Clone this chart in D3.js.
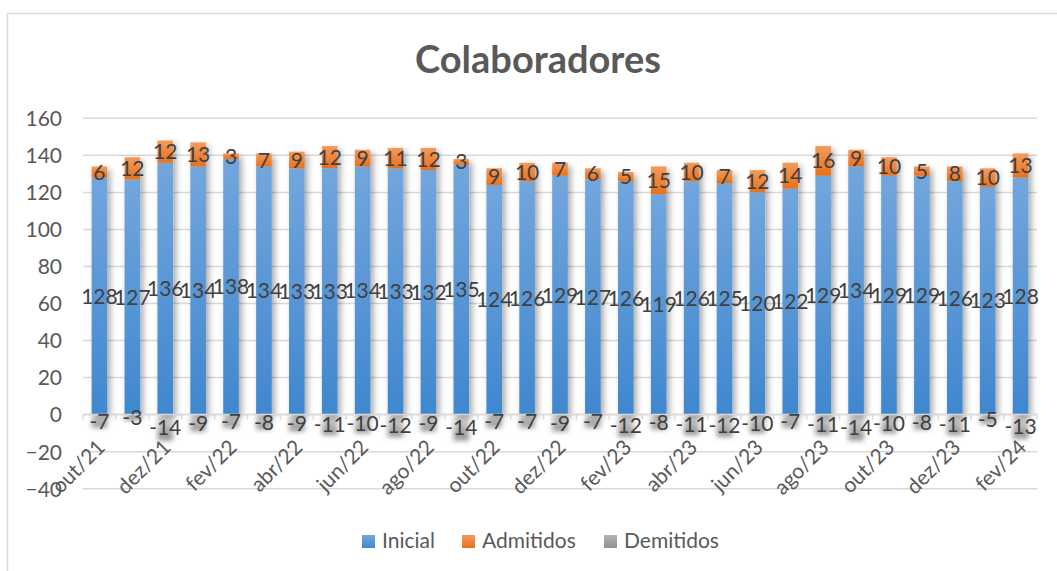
<!DOCTYPE html>
<html>
<head>
<meta charset="utf-8">
<script src="https://cdn.jsdelivr.net/npm/d3@7"></script>
<style>
  body { margin: 0; background: #fff; }
  svg { display: block; font-family: Lato, "Open Sans", sans-serif; }
</style>
</head>
<body>
<div id="vis"></div>
<script>
var months = ["out/21", "nov/21", "dez/21", "jan/22", "fev/22", "mar/22", "abr/22", "mai/22",
  "jun/22", "jul/22", "ago/22", "set/22", "out/22", "nov/22", "dez/22", "jan/23", "fev/23",
  "mar/23", "abr/23", "mai/23", "jun/23", "jul/23", "ago/23", "set/23", "out/23", "nov/23",
  "dez/23", "jan/24", "fev/24"];
var inicial = [128, 127, 136, 134, 138, 134, 133, 133, 134, 133, 132, 135, 124, 126, 129, 127,
  126, 119, 126, 125, 120, 122, 129, 134, 129, 129, 126, 123, 128];
var admitidos = [6, 12, 12, 13, 3, 7, 9, 12, 9, 11, 12, 3, 9, 10, 7, 6, 5, 15, 10, 7, 12, 14,
  16, 9, 10, 5, 8, 10, 13];
var demitidos = [-7, -3, -14, -9, -7, -8, -9, -11, -10, -12, -9, -14, -7, -7, -9, -7, -12, -8,
  -11, -12, -10, -7, -11, -14, -10, -8, -11, -5, -13];
var yTicks = [-40, -20, 0, 20, 40, 60, 80, 100, 120, 140, 160];
var seriesNames = ["Inicial", "Admitidos", "Demitidos"];

var w = 1057, h = 571;

var svg = d3.select("#vis").append("svg")
    .attr("width", w)
    .attr("height", h);

var defs = svg.append("defs");

function gradient(id, top, bottom) {
  var g = defs.append("linearGradient")
    .attr("id", id)
    .attr("x1", 0).attr("y1", 0).attr("x2", 0).attr("y2", 1);
  g.append("stop").attr("offset", "0%").attr("stop-color", top);
  g.append("stop").attr("offset", "100%").attr("stop-color", bottom);
}
gradient("gBlue", "#72a6dd", "#3f87cf");
gradient("gOrange", "#f59a5c", "#e8701c");
gradient("gGray", "#dedede", "#8c8c8c");
gradient("gGrayLeg", "#b4b4b4", "#909090");

var shadow = defs.append("filter").attr("id", "shadow")
    .attr("x", "-50%").attr("y", "-20%").attr("width", "200%").attr("height", "140%");
shadow.append("feDropShadow")
    .attr("dx", 3).attr("dy", 3).attr("stdDeviation", 3)
    .attr("flood-color", "#000").attr("flood-opacity", 0.35);

var blur = defs.append("filter").attr("id", "blur")
    .attr("x", "-50%").attr("y", "-50%").attr("width", "200%").attr("height", "200%");
blur.append("feGaussianBlur").attr("stdDeviation", 2.5);

// chart border (only left and top visible)
svg.append("path")
    .attr("d", "M7.5," + (h + 5) + "V13.5H" + (w + 5))
    .attr("fill", "none")
    .attr("stroke", "#d9d9d9")
    .attr("stroke-width", 1.5);

// title
svg.append("text")
    .attr("x", 538)
    .attr("y", 73)
    .attr("text-anchor", "middle")
    .style("font-size", "38px")
    .style("font-weight", "bold")
    .style("fill", "#595959")
    .text("Colaboradores");

var x = d3.scaleBand()
    .domain(months)
    .range([83, 1037])
    .paddingInner(0.526)
    .paddingOuter(0.263);

var y = d3.scaleLinear()
    .domain([-40, 160])
    .range([488.7, 118.3]);

// gridlines
svg.append("g").selectAll("line")
    .data(yTicks)
    .enter().append("line")
    .attr("x1", 83).attr("x2", 1037)
    .attr("y1", function(d) { return y(d); })
    .attr("y2", function(d) { return y(d); })
    .attr("stroke", "#d9d9d9")
    .attr("stroke-width", 1.5);

// y axis
var yAxis = svg.append("g")
    .attr("transform", "translate(62,0)")
    .call(d3.axisLeft(y).tickValues(yTicks).tickSize(0).tickPadding(0));
yAxis.select(".domain").remove();
yAxis.selectAll("text")
    .style("font-size", "21px")
    .style("fill", "#595959")
    .style("font-family", "Lato, sans-serif")
    .attr("dy", "0.35em");

var rows = months.map(function(m, i) {
  return { m: m, ini: inicial[i], adm: admitidos[i], dem: demitidos[i] };
});

var bw = x.bandwidth();

// demitidos (grey, soft)
svg.append("g").selectAll("rect")
    .data(rows)
    .enter().append("rect")
    .attr("x", function(d) { return x(d.m); })
    .attr("y", y(0))
    .attr("width", bw)
    .attr("height", function(d) { return y(d.dem) - y(0); })
    .attr("fill", "url(#gGray)")
    .attr("filter", "url(#blur)");

// inicial + admitidos stacked with shadow
var bars = svg.append("g").attr("filter", "url(#shadow)");
bars.selectAll("rect.ini")
    .data(rows)
    .enter().append("rect")
    .attr("class", "ini")
    .attr("x", function(d) { return x(d.m); })
    .attr("y", function(d) { return y(d.ini); })
    .attr("width", bw)
    .attr("height", function(d) { return y(0) - y(d.ini); })
    .attr("fill", "url(#gBlue)");
bars.selectAll("rect.adm")
    .data(rows)
    .enter().append("rect")
    .attr("class", "adm")
    .attr("x", function(d) { return x(d.m); })
    .attr("y", function(d) { return y(d.ini + d.adm); })
    .attr("width", bw)
    .attr("height", function(d) { return y(d.ini) - y(d.ini + d.adm); })
    .attr("fill", "url(#gOrange)");

// zero axis line with category labels
var xAxis = svg.append("g")
    .attr("transform", "translate(0," + y(0) + ")")
    .call(d3.axisBottom(x)
      .tickValues(months.filter(function(m, i) { return i % 2 === 0; }))
      .tickSize(0).tickPadding(0));
xAxis.select(".domain")
    .attr("d", "M83,0H1037")
    .attr("stroke", "#d9d9d9")
    .attr("stroke-width", 1.5);
xAxis.selectAll("text")
    .style("font-size", "21px")
    .style("fill", "#595959")
    .style("font-family", "Lato, sans-serif")
    .attr("text-anchor", "end")
    .attr("dy", null)
    .attr("y", 0)
    .attr("transform", "translate(7,34) rotate(-45)");

svg.append("g").selectAll("line")
    .data(months.concat(["end"]))
    .enter().append("line")
    .attr("x1", function(d, i) { return 83 + i * x.step(); })
    .attr("x2", function(d, i) { return 83 + i * x.step(); })
    .attr("y1", y(0)).attr("y2", y(0) + 5)
    .attr("stroke", "#d9d9d9")
    .attr("stroke-width", 1.5);

// data labels
var lab = svg.append("g")
    .style("font-size", "21px")
    .style("fill", "#404040")
    .attr("text-anchor", "middle");
function cx(d) { return x(d.m) + bw / 2; }
lab.selectAll("text.li")
    .data(rows).enter().append("text")
    .attr("x", cx)
    .attr("y", function(d) { return y(d.ini / 2); })
    .attr("dy", "0.36em")
    .text(function(d) { return d.ini; });
lab.selectAll("text.la")
    .data(rows).enter().append("text")
    .attr("x", cx)
    .attr("y", function(d) { return y(d.ini + d.adm / 2); })
    .attr("dy", "0.36em")
    .text(function(d) { return d.adm; });
lab.selectAll("text.ld")
    .data(rows).enter().append("text")
    .attr("x", cx)
    .attr("y", function(d) { return y(d.dem / 2); })
    .attr("dy", "0.36em")
    .text(function(d) { return d.dem; });

// legend
var legendX = [362, 462, 604];
var legendFill = ["url(#gBlue)", "url(#gOrange)", "url(#gGrayLeg)"];
var legend = svg.append("g").selectAll("g")
    .data(seriesNames)
    .enter().append("g")
    .attr("transform", function(d, i) { return "translate(" + legendX[i] + ",535)"; });
legend.append("rect")
    .attr("width", 13).attr("height", 13)
    .attr("fill", function(d, i) { return legendFill[i]; });
legend.append("text")
    .attr("x", 20)
    .attr("y", 13)
    .style("font-size", "21px")
    .style("fill", "#595959")
    .text(function(d) { return d; });
</script>
</body>
</html>
